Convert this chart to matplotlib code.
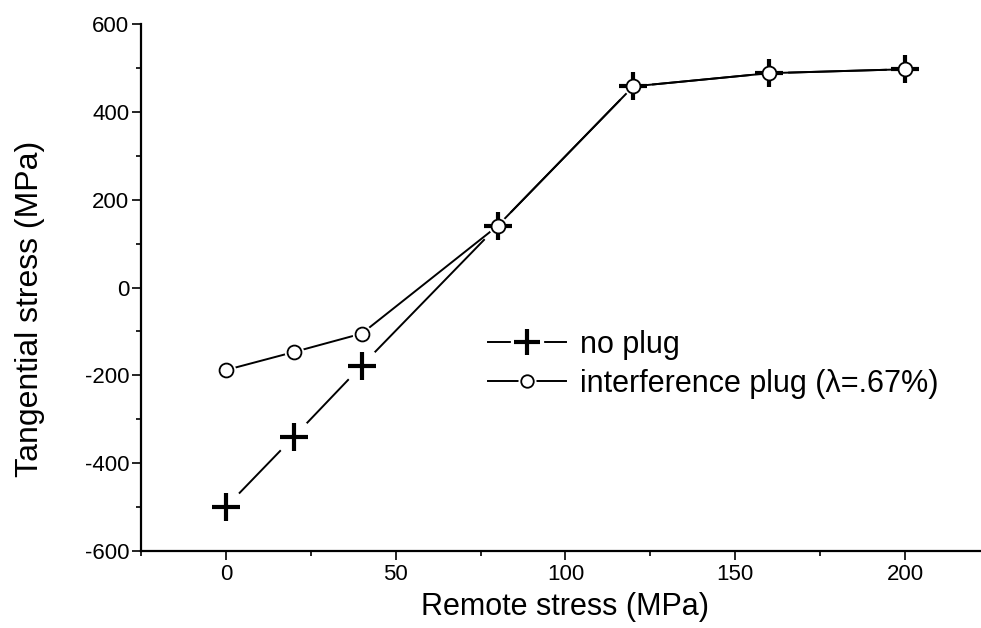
import numpy as np
import matplotlib.pyplot as plt
from matplotlib.lines import Line2D
from matplotlib.legend_handler import HandlerTuple

# data
remote = [0, 20, 40, 80, 120, 160, 200]
no_plug = [-500, -340, -178, 140, 458, 488, 497]
interference = [-188, -147, -105, 140, 458, 488, 497]

plt.rcParams['font.family'] = ['Liberation Sans', 'DejaVu Sans']
plt.rcParams['axes.unicode_minus'] = False

fig = plt.figure(figsize=(9.81, 6.28), dpi=100)
ax = fig.add_axes([141 / 981, 1 - 551 / 628, 840 / 981, 527 / 628])

# lines first, then white masks so the lines stop short of the symbols
ax.plot(remote, no_plug, color='black', lw=1.4, zorder=1)
ax.plot(remote, no_plug, ls='none', marker='o', ms=27, mfc='white', mec='none', zorder=2)
ax.plot(remote, interference, color='black', lw=1.4, zorder=3)
ax.plot(remote, interference, ls='none', marker='o', ms=14, mfc='white', mec='none', zorder=4)
ax.plot(remote, no_plug, ls='none', marker='+', ms=20, mew=3, color='black', zorder=5)
ax.plot(remote, interference, ls='none', marker='o', ms=10, mew=1.3, mfc='white', mec='black', zorder=6)

ax.set_xlim(-25, 222.4)
ax.set_ylim(-600, 600)
ax.set_xticks(np.arange(0, 201, 50))
ax.set_xticks(np.arange(-25, 222, 25), minor=True)
ax.set_yticks(np.arange(-600, 601, 200))
ax.set_yticks(np.arange(-500, 600, 200), minor=True)

for s in ['top', 'right']:
    ax.spines[s].set_visible(False)
for s in ['left', 'bottom']:
    ax.spines[s].set_linewidth(1.6)
    ax.spines[s].set_clip_on(False)

ax.tick_params(which='major', direction='out', length=6.5, width=1.2, labelsize=16, pad=2)
ax.tick_params(which='minor', direction='out', length=3.5, width=1.2)
ax.tick_params(axis='x', which='major', pad=3)

ax.set_xlabel('Remote stress (MPa)', fontsize=22)
ax.xaxis.set_label_coords(0.505, -0.107)
ax.xaxis.label.set_va('center')
ax.set_ylabel('Tangential stress (MPa)', fontsize=23)
ax.yaxis.set_label_coords(-0.132, 0.46)
ax.yaxis.label.set_va('center')

h1 = (Line2D([], [], color='black', lw=1.4),
      Line2D([], [], ls='none', marker='o', ms=24, mfc='white', mec='none'),
      Line2D([], [], ls='none', marker='+', ms=19, mew=3, color='black'))
h2 = (Line2D([], [], color='black', lw=1.4),
      Line2D([], [], ls='none', marker='o', ms=13, mfc='white', mec='none'),
      Line2D([], [], ls='none', marker='o', ms=9, mew=1.3, mfc='white', mec='black'))
fig.legend([h1, h2], ['no plug', 'interference plug (\u03bb=.67%)'],
           handler_map={tuple: HandlerTuple(ndivide=1, pad=0)},
           loc='upper left', bbox_to_anchor=(488 / 981, 1 - 330 / 628),
           bbox_transform=fig.transFigure, frameon=False, fontsize=22,
           borderpad=0, borderaxespad=0, handlelength=2.55, handletextpad=0.45,
           labelspacing=0.3)

fig.savefig('out.png', dpi=100)
